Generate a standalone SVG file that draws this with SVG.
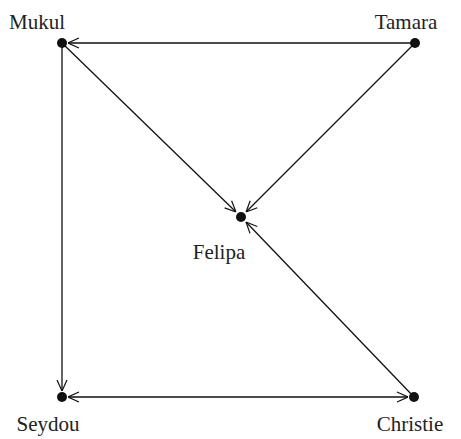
<svg xmlns="http://www.w3.org/2000/svg" width="461" height="439" viewBox="0 0 461 439">
<defs>
<marker id="ah" viewBox="0 0 12 12" refX="12" refY="6" markerWidth="12" markerHeight="12" markerUnits="userSpaceOnUse" orient="auto-start-reverse">
<path d="M1,1 L12,6 L1,11" fill="none" stroke="#111" stroke-width="1.2"/>
</marker>
</defs>
<rect width="461" height="439" fill="#fff"/>
<g id="connectors" stroke="#111" stroke-width="1.3" fill="none" marker-end="url(#ah)">
<line x1="415" y1="43" x2="68" y2="43"/>
<line x1="62" y1="43" x2="236" y2="212"/>
<line x1="415" y1="43" x2="246" y2="212"/>
<line x1="414" y1="397" x2="246" y2="222"/>
<line x1="62" y1="43" x2="62" y2="391"/>
<line x1="68" y1="397" x2="408" y2="397" marker-start="url(#ah)"/>
</g>
<g id="Mukul"><circle fill="#111" cx="62" cy="43" r="5"/><text x="37" y="29" font-family="Liberation Serif" font-size="21" fill="#222" text-anchor="middle">Mukul</text></g>
<g id="Tamara"><circle fill="#111" cx="415" cy="43" r="5"/><text x="406" y="29" font-family="Liberation Serif" font-size="21" fill="#222" text-anchor="middle">Tamara</text></g>
<g id="Felipa"><circle fill="#111" cx="241" cy="217" r="5"/><text x="219" y="259" font-family="Liberation Serif" font-size="21" fill="#222" text-anchor="middle">Felipa</text></g>
<g id="Seydou"><circle fill="#111" cx="62" cy="397" r="5"/><text x="48" y="431" font-family="Liberation Serif" font-size="21" fill="#222" text-anchor="middle">Seydou</text></g>
<g id="Christie"><circle fill="#111" cx="414" cy="397" r="5"/><text x="410" y="431" font-family="Liberation Serif" font-size="21" fill="#222" text-anchor="middle">Christie</text></g>
</svg>
